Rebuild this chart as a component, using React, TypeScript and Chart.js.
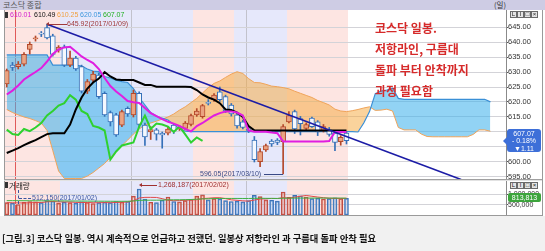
import React, { useEffect, useRef } from 'react';
import { Chart, registerables } from 'chart.js';

Chart.register(...registerables);

// ---------------- data ----------------
const dates = [
  '2016/12/28', '2016/12/29', '2017/01/02', '2017/01/03', '2017/01/04', '2017/01/05', '2017/01/06', '2017/01/09',
  '2017/01/10', '2017/01/11', '2017/01/12', '2017/01/13', '2017/01/16', '2017/01/17', '2017/01/18', '2017/01/19',
  '2017/01/20', '2017/01/23', '2017/01/24', '2017/01/25', '2017/01/26', '2017/01/31', '2017/02/01', '2017/02/02',
  '2017/02/03', '2017/02/06', '2017/02/07', '2017/02/08', '2017/02/09', '2017/02/10', '2017/02/13', '2017/02/14',
  '2017/02/15', '2017/02/16', '2017/02/17', '2017/02/20', '2017/02/21', '2017/02/22', '2017/02/23', '2017/02/24',
  '2017/02/27', '2017/02/28', '2017/03/02', '2017/03/03', '2017/03/06', '2017/03/07', '2017/03/08', '2017/03/09',
  '2017/03/10', '2017/03/13', '2017/03/14', '2017/03/15', '2017/03/16', '2017/03/17', '2017/03/20', '2017/03/21',
  '2017/03/22', '2017/03/23', '2017/03/24', '2017/03/27',
];

const open = [
  626.0, 632.3, 631.8, 632.6, 637.5, 641.0, 643.0, 644.8, 642.1, 637.3,
  638.4, 632.3, 634.6, 631.8, 623.6, 627.3, 629.0, 622.9, 616.5, 615.7,
  612.3, 617.9, 615.7, 622.9, 612.3, 610.0, 610.7, 609.6, 609.6, 612.3,
  611.0, 611.2, 612.5, 615.7, 615.1, 619.8, 620.7, 623.4, 621.8, 619.0,
  615.7, 613.4, 611.0, 607.3, 600.1, 604.0, 607.0, 607.3, 606.8, 613.4,
  616.8, 614.5, 611.2, 614.6, 613.4, 610.5, 610.7, 609.6, 606.8, 609.6,
];
const high = [
  631.0, 633.2, 633.5, 636.5, 640.0, 642.0, 643.5, 645.92, 642.6, 638.8,
  639.0, 637.0, 635.2, 632.3, 627.5, 630.2, 629.6, 623.4, 617.0, 616.2,
  617.3, 618.4, 624.0, 623.4, 613.0, 611.8, 611.2, 610.0, 611.8, 612.8,
  612.0, 613.5, 616.0, 617.8, 619.2, 620.8, 622.8, 625.0, 622.3, 619.5,
  616.2, 614.0, 611.8, 608.5, 604.5, 606.0, 607.5, 607.8, 612.5, 616.8,
  617.3, 615.2, 613.0, 615.0, 613.8, 612.5, 611.5, 610.0, 608.8, 610.0,
];
const low = [
  625.0, 630.5, 631.0, 632.0, 636.0, 640.3, 641.8, 641.0, 635.3, 636.6,
  631.8, 631.8, 630.5, 623.0, 622.8, 626.8, 621.2, 615.2, 612.0, 608.5,
  611.8, 615.2, 615.0, 611.5, 605.5, 607.5, 607.3, 604.6, 609.0, 609.5,
  610.5, 610.8, 612.0, 615.2, 614.6, 619.0, 620.2, 620.2, 616.5, 615.3,
  611.3, 611.0, 609.8, 600.0, 598.4, 603.5, 605.2, 605.8, 596.05, 613.0,
  609.5, 609.0, 610.8, 611.5, 608.8, 610.0, 608.6, 603.8, 605.6, 606.0,
];
const close = [
  630.5, 631.5, 632.6, 635.9, 639.2, 641.4, 642.6, 641.4, 635.9, 638.3,
  632.3, 634.6, 631.0, 623.6, 626.8, 629.3, 621.8, 615.7, 613.4, 609.0,
  616.8, 616.0, 622.9, 612.5, 608.4, 610.8, 609.3, 609.0, 611.0, 610.3,
  611.5, 613.0, 615.5, 617.0, 618.8, 619.6, 622.3, 620.8, 617.0, 616.0,
  612.0, 611.5, 610.5, 600.8, 603.5, 605.5, 606.0, 606.5, 611.8, 615.5,
  611.0, 612.8, 612.5, 611.8, 610.0, 611.8, 609.2, 606.5, 608.18, 607.07,
];
const volume = [
  600000, 580000, 512150, 620000, 660000, 640000, 600000, 700000, 680000, 580000,
  620000, 600000, 580000, 640000, 610000, 560000, 600000, 620000, 600000, 660000,
  630000, 660000, 920000, 1268187, 780000, 620000, 600000, 720000, 880000, 660000,
  640000, 700000, 760000, 920000, 980000, 740000, 800000, 780000, 700000, 660000,
  680000, 640000, 700000, 960000, 900000, 740000, 720000, 680000, 1120000, 860000,
  960000, 940000, 880000, 800000, 820000, 780000, 800000, 840000, 800000, 813813,
];
// 전환선 (magenta)
const tenkan = [
  622.5, 623.8, 625.5, 627.5, 628.8, 630.0, 631.3, 633.5, 636.0, 637.5,
  638.2, 638.4, 636.8, 635.2, 634.0, 633.0, 631.0, 628.0, 625.3, 623.5,
  622.0, 620.3, 619.9, 619.7, 618.0, 616.3, 615.3, 614.3, 613.4, 612.8,
  612.0, 611.0, 610.2, 612.0, 613.0, 614.3, 615.5, 616.3, 616.8, 616.8,
  616.5, 615.5, 610.5, 610.1, 610.1, 610.1, 609.8, 609.6, 606.8, 606.8,
  606.8, 606.8, 606.8, 606.8, 606.8, 606.8, 607.0, 610.0, 610.0, 610.01,
];
// 기준선 (black)
const kijun = [
  603.0, 603.8, 604.6, 605.6, 606.5, 607.3, 608.3, 609.3, 609.6, 609.6,
  609.6, 612.5, 617.5, 621.5, 624.5, 626.5, 627.8, 630.0, 628.5, 627.5,
  627.3, 627.3, 627.3, 626.5, 625.7, 625.7, 625.1, 625.1, 625.1, 625.1,
  625.1, 625.1, 625.0, 624.0, 622.5, 621.5, 620.8, 619.6, 617.5, 617.3,
  616.5, 615.0, 612.0, 610.6, 610.5, 610.5, 610.5, 610.5, 610.5, 610.5,
  610.5, 610.5, 610.5, 610.5, 610.5, 610.5, 610.5, 610.5, 610.5, 610.49,
];
// 후행스팬 (green)
const chikou = [
  610.8, 609.3, 609.0, 611.0, 610.3, 611.5, 613.0, 615.5, 617.0, 618.8,
  619.6, 622.3, 620.8, 617.0, 616.0, 612.0, 611.5, 610.5, 600.8, 603.5,
  605.5, 606.0, 606.5, 611.8, 615.5, 611.0, 612.8, 612.5, 611.8, 610.0,
  611.8, 609.2, 606.5, 608.18, 607.07,
];
// 선행스팬1 (orange)
const spanA = [
  617.5, 616.5, 615.7, 615.0, 614.5, 613.8, 613.0, 610.5, 603.8, 597.0,
  594.5, 594.5, 594.5, 594.5, 595.3, 596.5, 598.0, 599.5, 601.5, 603.5,
  605.5, 607.3, 609.3, 611.0, 612.3, 613.0, 613.6, 614.3, 615.0, 616.0,
  617.3, 618.4, 619.8, 621.2, 623.0, 624.8, 626.2, 627.0, 628.2, 629.3,
  630.1, 629.5, 627.8, 626.5, 626.4, 625.9, 625.3, 625.1, 624.8, 624.4,
  623.6, 622.9, 622.2, 621.5, 620.5, 619.8, 619.0, 617.6, 617.0, 616.8,
  617.1, 617.5, 618.0, 618.4, 617.2, 617.3, 617.6, 617.0, 611.5, 610.7,
  610.7, 610.7, 609.3, 608.5, 608.4, 608.4, 608.4, 608.4, 608.4, 608.4,
  608.4, 609.2, 610.7, 610.7, 610.25,
];
// 선행스팬2 (blue)
const spanB = [
  635.7, 635.7, 635.7, 635.7, 635.7, 635.7, 635.7, 635.7, 632.3, 632.3,
  632.3, 632.3, 632.3, 632.0, 631.0, 630.3, 630.1, 628.5, 628.0, 627.3,
  626.8, 626.5, 624.5, 621.5, 619.0, 616.5, 615.3, 614.6, 614.0, 612.5,
  611.0, 610.3, 610.1, 610.1, 610.1, 610.1, 610.1, 610.1, 610.1, 610.1,
  610.1, 610.1, 610.1, 610.1, 610.1, 610.1, 610.1, 610.1, 610.1, 610.1,
  610.1, 610.1, 610.1, 610.1, 610.1, 610.1, 610.1, 610.1, 610.1, 610.1,
  610.1, 610.0, 613.0, 616.8, 622.8, 623.6, 624.0, 624.6, 621.2, 620.9,
  620.9, 620.9, 620.9, 620.9, 620.9, 620.9, 620.9, 620.9, 620.9, 620.9,
  620.9, 620.9, 620.9, 620.9, 620.05,
];
const volMa5 = [
  600000, 598000, 590000, 586000, 596000, 606000, 606000, 644000, 660000, 640000,
  636000, 636000, 616000, 608000, 610000, 598000, 598000, 606000, 598000, 612000,
  622000, 634000, 696000, 830000, 860000, 860000, 856000, 798000, 720000, 696000,
  704000, 720000, 732000, 744000, 800000, 820000, 840000, 844000, 800000, 740000,
  716000, 692000, 676000, 728000, 776000, 792000, 808000, 804000, 848000, 824000,
  868000, 912000, 952000, 912000, 876000, 844000, 816000, 808000, 808000, 810000,
];
const volMa20 = [
  700000, 700000, 698000, 696000, 695000, 694000, 692000, 690000, 690000, 688000,
  686000, 684000, 682000, 680000, 678000, 676000, 674000, 672000, 670000, 668000,
  668000, 670000, 684000, 712000, 722000, 722000, 722000, 726000, 740000, 742000,
  744000, 748000, 756000, 770000, 786000, 792000, 800000, 806000, 808000, 808000,
  808000, 806000, 806000, 812000, 816000, 812000, 810000, 808000, 820000, 822000,
  824000, 826000, 826000, 826000, 826000, 826000, 826000, 826000, 824000, 822000,
];
const priceTicks = [595, 600, 605, 610, 615, 620, 625, 630, 635, 640, 645];
const volumeTicks = [500000, 1000000];
const legendValues = ['610.01', '610.49', '610.25', '620.05', '607.07'];
const trendLine = [
  { x: 7, y: 645.92 },
  { x: 78.9, y: 594.15 },
];

// ---------------- layout / style ----------------
const X_MIN = -0.3;
const X_MAX = 86.7;
const AXIS_W = 36;
const PAD_LEFT = 5;
const PINK = '#fde5e2';
const LAV = '#e6e8fb';
const BANDS: [number, number, string][] = [
  [-0.3, 9.3, PINK],
  [9.3, 32.4, LAV],
  [32.4, 39.5, PINK],
  [39.5, 48.7, LAV],
  [48.7, 59.3, PINK],
];
const MONTH_LINES = [21.5, 41.5];
const YEAR_LINE = 1.5;
const NUM_FONT = 'Liberation Sans, Arial, sans-serif';
const KR_FONT = '"Noto Sans CJK KR", "Noto Sans", sans-serif';

const bandsPlugin = {
  id: 'bands',
  beforeDraw(chart: any) {
    const { ctx, chartArea: a, scales } = chart;
    const x = scales.x;
    ctx.save();
    ctx.fillStyle = '#ffffff';
    ctx.fillRect(a.left, a.top, a.right - a.left, a.bottom - a.top);
    BANDS.forEach(([f, t, c]) => {
      const x0 = Math.max(a.left, Math.round(x.getPixelForValue(f)));
      const x1 = Math.round(x.getPixelForValue(t));
      ctx.fillStyle = c;
      ctx.fillRect(x0, a.top, x1 - x0, a.bottom - a.top);
    });
    ctx.lineWidth = 1;
    ctx.strokeStyle = '#c2c2cc';
    MONTH_LINES.forEach((v) => {
      const px = Math.round(x.getPixelForValue(v)) + 0.5;
      ctx.beginPath();
      ctx.moveTo(px, a.top);
      ctx.lineTo(px, a.bottom);
      ctx.stroke();
    });
    const py = Math.round(x.getPixelForValue(YEAR_LINE)) + 0.5;
    ctx.strokeStyle = '#e05a5a';
    ctx.beginPath();
    ctx.moveTo(py, a.top);
    ctx.lineTo(py, a.bottom);
    ctx.stroke();
    ctx.restore();
  },
};

const pts = (arr: number[]) => arr.map((v, i) => ({ x: i, y: v }));
const isUp = (i: number) => close[i] >= open[i];

const xScale = { type: 'linear', min: X_MIN, max: X_MAX, display: false, offset: false, grid: { display: false } };

function fixAxis(s: any) {
  s.width = AXIS_W;
  s.paddingTop = 0;
  s.paddingBottom = 0;
}

function mainConfig(): any {
  const bodies = dates.map((_, i) => {
    let lo = Math.min(open[i], close[i]);
    let hi = Math.max(open[i], close[i]);
    if (hi - lo < 0.34) {
      const m = (hi + lo) / 2;
      lo = m - 0.17;
      hi = m + 0.17;
    }
    return { x: i, y: [lo, hi] };
  });
  const wicks = dates.map((_, i) => ({ x: i, y: [low[i], high[i]] }));
  const upLine = '#b4482a';
  const dnLine = '#3570b8';
  return {
    type: 'bar',
    data: {
      datasets: [
        {
          type: 'line', data: pts(spanA), borderColor: '#f0a45a', borderWidth: 1, pointRadius: 0, tension: 0,
          fill: { target: 1, above: 'rgba(246,168,58,0.5)', below: 'rgba(60,176,236,0.56)' }, order: 10,
        },
        { type: 'line', data: pts(spanB), borderColor: '#3a8fd6', borderWidth: 1.2, pointRadius: 0, tension: 0, fill: false, order: 9 },
        {
          type: 'bar', data: wicks, backgroundColor: dates.map((_, i) => (isUp(i) ? upLine : dnLine)),
          barThickness: 1, grouped: false, borderWidth: 0, order: 6,
        },
        {
          type: 'bar', data: bodies,
          backgroundColor: dates.map((_, i) => (isUp(i) ? '#eaa381' : '#f4f8fe')),
          borderColor: dates.map((_, i) => (isUp(i) ? upLine : dnLine)),
          borderWidth: 1, borderSkipped: false, barThickness: 5, grouped: false, order: 5,
        },
        { type: 'line', data: pts(chikou), borderColor: '#2fd12f', borderWidth: 2, pointRadius: 0, tension: 0, fill: false, order: 3 },
        { type: 'line', data: pts(kijun), borderColor: '#000000', borderWidth: 2, pointRadius: 0, tension: 0, fill: false, order: 2 },
        { type: 'line', data: pts(tenkan), borderColor: '#e01ee0', borderWidth: 2, pointRadius: 0, tension: 0, fill: false, order: 1 },
        { type: 'line', data: trendLine, borderColor: '#1c1ca6', borderWidth: 1.5, pointRadius: 0, tension: 0, fill: false, order: 0 },
      ],
    },
    options: {
      animation: false,
      responsive: false,
      devicePixelRatio: 1,
      events: [],
      layout: { padding: { left: PAD_LEFT, right: 0, top: 0, bottom: 0 } },
      plugins: { legend: { display: false }, tooltip: { enabled: false } },
      scales: {
        x: xScale,
        y: {
          type: 'linear', position: 'right', min: 594.33, max: 650.67, beginAtZero: false,
          afterBuildTicks: (s: any) => { s.ticks = priceTicks.map((v) => ({ value: v })); },
          afterFit: fixAxis,
          grid: { color: '#d3d3d8', tickLength: 2, tickColor: '#555' },
          border: { display: true, color: '#8a8a8a' },
          ticks: {
            autoSkip: false, padding: 0, color: '#333',
            font: { family: NUM_FONT, size: 7.5 },
            callback: (v: any) => Number(v).toFixed(2),
          },
        },
      },
    },
    plugins: [bandsPlugin],
  };
}

function volConfig(): any {
  return {
    type: 'bar',
    data: {
      datasets: [
        { type: 'line', data: pts(volMa20), borderColor: '#3cb043', borderWidth: 1, pointRadius: 0, tension: 0, fill: false, order: 1 },
        { type: 'line', data: pts(volMa5), borderColor: '#e04848', borderWidth: 1, pointRadius: 0, tension: 0, fill: false, order: 2 },
        {
          type: 'bar', data: pts(volume),
          backgroundColor: dates.map((_, i) => (isUp(i) ? 'rgba(240,170,150,0.35)' : 'rgba(160,200,240,0.35)')),
          borderColor: dates.map((_, i) => (isUp(i) ? '#c04a40' : '#3a72b8')),
          borderWidth: 1, borderSkipped: false, barThickness: 4, grouped: false, order: 3,
        },
      ],
    },
    options: {
      animation: false,
      responsive: false,
      devicePixelRatio: 1,
      events: [],
      layout: { padding: { left: PAD_LEFT, right: 0, top: 0, bottom: 0 } },
      plugins: { legend: { display: false }, tooltip: { enabled: false } },
      scales: {
        x: xScale,
        y: {
          type: 'linear', position: 'right', min: 0, max: 1658500,
          afterBuildTicks: (s: any) => { s.ticks = volumeTicks.map((v) => ({ value: v })); },
          afterFit: fixAxis,
          grid: { color: '#d3d3d8', tickLength: 2, tickColor: '#555' },
          border: { display: true, color: '#8a8a8a' },
          ticks: {
            autoSkip: false, padding: 0, color: '#333',
            font: { family: NUM_FONT, size: 7 },
            callback: (v: any) => Number(v).toLocaleString('en-US'),
          },
        },
      },
    },
    plugins: [bandsPlugin],
  };
}

const abs = (s: React.CSSProperties): React.CSSProperties => ({ position: 'absolute', whiteSpace: 'nowrap', ...s });

function Buttons({ left, top }: { left: number; top: number }) {
  const items = ['L', 'I', '□', '×'];
  return (
    <div style={abs({ left, top, display: 'flex', gap: 0 })}>
      {items.map((t, i) => (
        <div
          key={i}
          style={{
            width: 7, height: 7, boxSizing: 'border-box', border: '1px solid #6a6a6a', background: '#e4e4e4',
            fontSize: 6, lineHeight: '5px', textAlign: 'center', color: '#222', fontFamily: NUM_FONT,
          }}
        >
          {t}
        </div>
      ))}
    </div>
  );
}

const legendColors = ['#d41ecf', '#111111', '#f0a040', '#3c96dc', '#22b022'];
const legendLeft = [10, 34, 57, 80, 103];
const redLines = ['코스닥 일봉.', '저항라인, 구름대', '돌파 부터 안착까지', '과정 필요함'];
const redTops = [22, 43, 64, 85];

export default function App() {
  const mainRef = useRef<HTMLCanvasElement>(null);
  const volRef = useRef<HTMLCanvasElement>(null);

  useEffect(() => {
    document.body.style.margin = '0';
    const main = new Chart(mainRef.current as HTMLCanvasElement, mainConfig());
    const vol = new Chart(volRef.current as HTMLCanvasElement, volConfig());
    return () => {
      main.destroy();
      vol.destroy();
    };
  }, []);

  return (
    <div style={{ position: 'fixed', left: 0, top: 0, width: 545, height: 251, background: '#ffffff', overflow: 'hidden' }}>
      {/* title bar */}
      <div style={abs({ left: 0, top: 0, width: 545, height: 10, background: '#cecce4' })} />
      <div style={abs({ left: 3, top: 0, fontSize: 8, lineHeight: '9px', color: '#555', fontFamily: KR_FONT })}>코스닥 종합</div>
      <div style={abs({ left: 494, top: 0, fontSize: 7.5, lineHeight: '9px', color: '#333', fontFamily: KR_FONT })}>(일)</div>

      {/* main panel */}
      <canvas ref={mainRef} width={542} height={169} style={abs({ left: 0, top: 10, width: 542, height: 169 })} />
      {/* volume panel */}
      <canvas ref={volRef} width={542} height={34} style={abs({ left: 0, top: 181, width: 542, height: 34 })} />

      {/* frames */}
      <div style={abs({ left: 4, top: 10, width: 1, height: 206, background: '#9a9a9a' })} />
      <div style={abs({ left: 4, top: 179, width: 538, height: 1, background: '#a0a0a0' })} />
      <div style={abs({ left: 4, top: 180, width: 538, height: 1, background: '#e2e2e2' })} />
      <div style={abs({ left: 4, top: 215, width: 538, height: 1, background: '#9a9a9a' })} />
      <div style={abs({ left: 542, top: 10, width: 1, height: 206, background: '#9a9a9a' })} />
      <div style={abs({ left: 0, top: 216, width: 545, height: 35, background: '#f1f1f1' })} />

      {/* legend */}
      <div style={abs({ left: 5, top: 12, width: 3, height: 6, background: '#333' })} />
      {legendValues.map((v, i) => (
        <div key={v + i} style={abs({ left: legendLeft[i], top: 11, fontSize: 7, lineHeight: '8px', color: legendColors[i], fontFamily: NUM_FONT })}>
          {v}
        </div>
      ))}
      <Buttons left={510} top={11} />
      <Buttons left={510} top={182} />

      {/* high annotation */}
      <div style={abs({ left: 48, top: 24, width: 19, height: 1, background: '#a03a3a' })} />
      <div style={abs({ left: 46, top: 22, width: 0, height: 0, borderTop: '2px solid transparent', borderBottom: '2px solid transparent', borderRight: '3px solid #a03a3a' })} />
      <div style={abs({ left: 67, top: 20, fontSize: 7, lineHeight: '8px', color: '#a03a3a', fontFamily: NUM_FONT })}>645.92(2017/01/09)</div>

      {/* low annotation */}
      <div style={abs({ left: 200, top: 170, fontSize: 7, lineHeight: '8px', color: '#3a4a86', fontFamily: NUM_FONT })}>596.05(2017/03/10)</div>
      <div style={abs({ left: 264, top: 174, width: 19, height: 1, background: '#3a4a86' })} />

      {/* red comment */}
      {redLines.map((t, i) => (
        <div key={t} style={abs({ left: 375, top: redTops[i], fontSize: 12, lineHeight: '12px', fontWeight: 700, color: '#d62a2a', fontFamily: KR_FONT })}>
          {t}
        </div>
      ))}

      {/* current price tag */}
      <div style={abs({ left: 503, top: 137, width: 0, height: 0, borderTop: '4px solid transparent', borderBottom: '4px solid transparent', borderRight: '4px solid #3d6fd8' })} />
      <div
        style={abs({
          left: 507, top: 129, width: 34, height: 23, background: '#3d6fd8', borderRadius: 3, color: '#fff',
          fontSize: 7, lineHeight: '7.5px', textAlign: 'center', fontFamily: NUM_FONT, paddingTop: 0.5, boxSizing: 'border-box',
        })}
      >
        607.07<br />- 0.18%<br />▼1.11
      </div>

      {/* volume panel texts */}
      <div style={abs({ left: 5, top: 182, width: 3, height: 6, background: '#333' })} />
      <div style={abs({ left: 9, top: 181, fontSize: 7.5, lineHeight: '9px', color: '#222', fontFamily: KR_FONT })}>거래량</div>
      <div style={abs({ left: 142, top: 185, width: 15, height: 1, background: '#a03030' })} />
      <div style={abs({ left: 139, top: 183, width: 0, height: 0, borderTop: '2px solid transparent', borderBottom: '2px solid transparent', borderRight: '3px solid #a03030' })} />
      <div style={abs({ left: 158, top: 181, fontSize: 7, lineHeight: '8px', color: '#a03030', fontFamily: NUM_FONT })}>1,268,187(2017/02/02)</div>
      <div style={abs({ left: 18, top: 190, width: 0, height: 14, borderLeft: '1px dashed #3a56a0' })} />
      <div style={abs({ left: 19, top: 198, width: 12, height: 0, borderTop: '1px dashed #3a56a0' })} />
      <div style={abs({ left: 32, top: 194, fontSize: 7, lineHeight: '8px', color: '#3a56a0', fontFamily: NUM_FONT })}>512,150(2017/01/02)</div>

      {/* volume tag */}
      <div
        style={abs({
          left: 508, top: 193, width: 33, height: 9, background: '#3ca43c', borderRadius: 2, color: '#fff',
          fontSize: 7, lineHeight: '9px', textAlign: 'center', fontFamily: NUM_FONT,
        })}
      >
        813,813
      </div>

      {/* caption */}
      <div style={abs({ left: 2, top: 232, fontSize: 9.3, lineHeight: '12px', fontWeight: 700, color: '#111', fontFamily: KR_FONT })}>
        [그림.3] 코스닥 일봉. 역시 계속적으로 언급하고 전했던. 일봉상 저항라인 과 구름대 돌파 안착 필요
      </div>
    </div>
  );
}
